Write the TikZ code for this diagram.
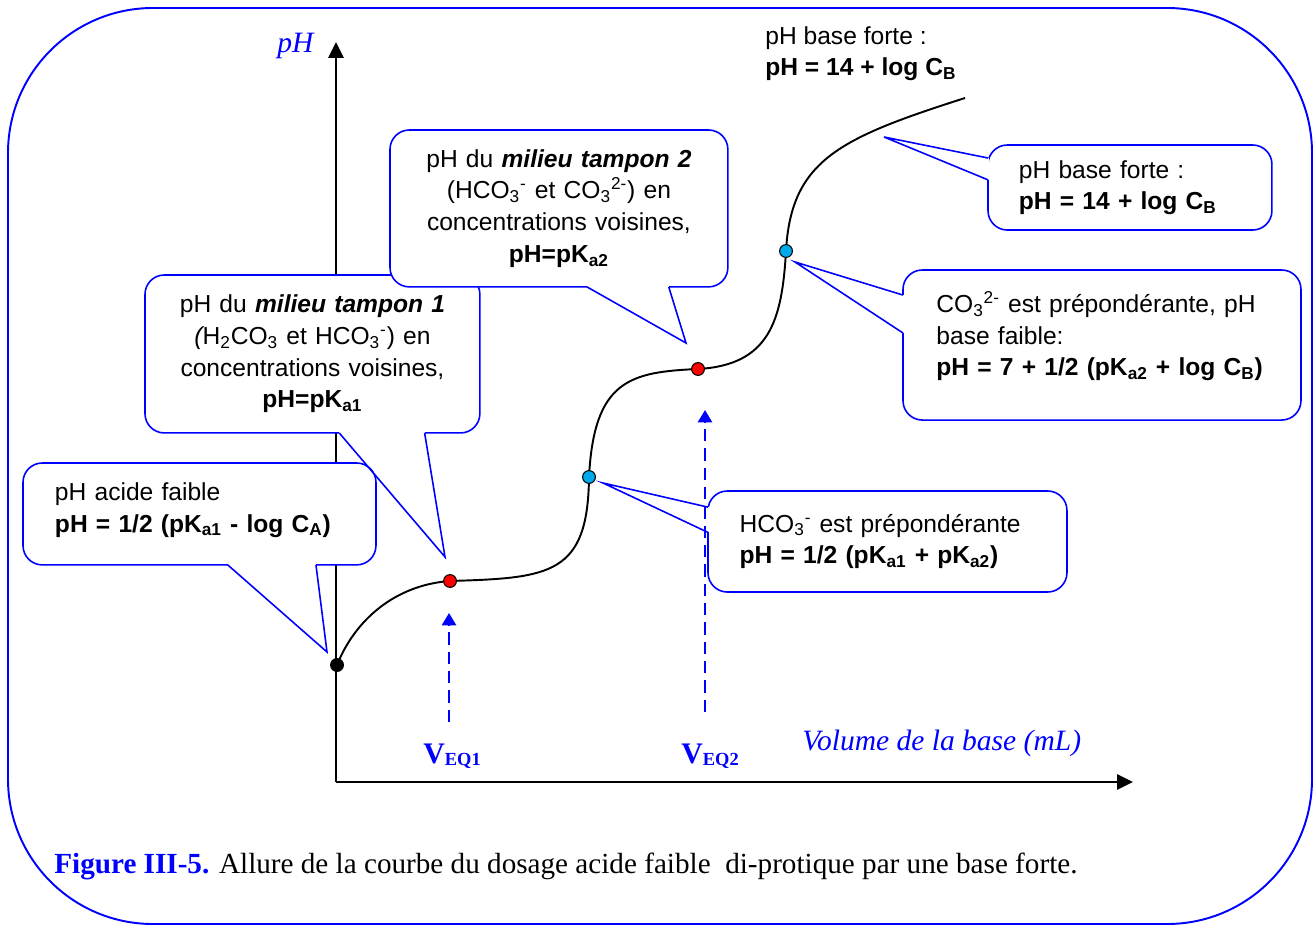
\documentclass[tikz,border=0pt]{standalone}
\usepackage{fontspec}
\setmainfont{Liberation Serif}
\setsansfont{Liberation Sans}
\usetikzlibrary{arrows.meta,calc}
\definecolor{dotBlue}{RGB}{0,170,235}
\begin{document}
\begin{tikzpicture}
		[x=0.02cm,y=-0.02cm,
			boxDecorate/.style={draw=blue,line width=0.9pt,fill=white,rounded corners=11pt,outer sep=0pt,
				anchor=north west,inner ysep=0pt,font=\sffamily\fontsize{14}{18}\selectfont},
			pointerDecorate/.style={blue,line width=0.9pt,line join=miter},
			dotDecorate/.style={shape=circle,draw,line width=0.6pt,inner sep=0pt,minimum size=7.3pt},
			axisDecorate/.style={line width=1.6pt,-{Triangle[length=9pt,width=8.5pt]}},
			eqDecorate/.style={blue,line width=1.3pt,dash pattern=on 7pt off 4pt,-{Triangle[length=7pt,width=8pt]}},
			serifLabel/.style={blue,inner sep=0pt,anchor=base west,font=\itshape\fontsize{16.8}{20}\selectfont}]
		\useasboundingbox (0,0) rectangle (1314,925);
		\draw[blue,line width=1.1pt,rounded corners=2.9cm] (8,8) rectangle (1312,924);
		% axes
		\coordinate (O) at (336,782);
		\coordinate (yEnd) at (336,42);
		\coordinate (xEnd) at (1133,782);
		\draw[axisDecorate] (O) -- (yEnd);
		\draw[axisDecorate] (O) -- (xEnd);
		% titration curve
		\foreach \name/\x/\y in {start/337/665, eqA/450/581, halfB/589/477, eqB/698/369, halfC/786/251, last/965/98}
			{
				\coordinate (\name) at (\x,\y);
			}
		\draw[line width=1.1pt] (start) .. controls (355,620) and (395,585) .. (eqA)
			.. controls (550,578) and (588,575) .. (halfB)
			.. controls (594,380) and (630,372) .. (eqB)
			.. controls (770,365) and (782,320) .. (halfC)
			.. controls (791,160) and (840,138) .. (last);
		\foreach \name/\colour in {start/black, eqA/red, halfB/dotBlue, eqB/red, halfC/dotBlue}
			{
				\node (\name Dot) at (\name) [dotDecorate,fill=\colour] {};
			}
		% callouts
		\node[boxDecorate,minimum width=200.9pt,minimum height=58pt,inner xsep=18.2pt,text width=164.5pt,align=left,text depth=25.6pt]
			(acide) at (23,463) {pH acide faible\\\textbf{pH = 1/2 (pK\textsubscript{a1} - log C\textsubscript{A})}};
		\node[boxDecorate,minimum width=190.6pt,minimum height=89.9pt,inner xsep=6pt,text width=178.6pt,align=center]
			(tampA) at (145,275) {pH du \textbf{\textit{milieu tampon 1}}\\{\itshape(}H\textsubscript{2}CO\textsubscript{3} et HCO\textsubscript{3}\textsuperscript{-}) en\\concentrations voisines,\\\textbf{pH=pK\textsubscript{a1}}};
		\node[boxDecorate,minimum width=192.3pt,minimum height=89.3pt,inner xsep=6pt,text width=180.3pt,align=center]
			(tampB) at (390,130) {pH du \textbf{\textit{milieu tampon 2}}\\(HCO\textsubscript{3}\textsuperscript{-} et CO\textsubscript{3}\textsuperscript{2-}) en\\concentrations voisines,\\\textbf{pH=pK\textsubscript{a2}}};
		\node[boxDecorate,minimum width=204.3pt,minimum height=57.5pt,inner xsep=18pt,text width=168.3pt,align=left]
			(hco) at (708,491) {HCO\textsubscript{3}\textsuperscript{-} est prépondérante\\\textbf{pH = 1/2 (pK\textsubscript{a1} + pK\textsubscript{a2})}};
		\node[boxDecorate,minimum width=161.6pt,minimum height=48.4pt,inner xsep=17.6pt,text width=126.4pt,align=left]
			(forte) at (988,145) {pH base forte :\\\textbf{pH = 14 + log C\textsubscript{B}}};
		\node[boxDecorate,minimum width=226.5pt,minimum height=85.4pt,inner xsep=19pt,text width=188.5pt,align=left,text depth=49pt]
			(co) at (903,270) {CO\textsubscript{3}\textsuperscript{2-} est prépondérante, pH\\base faible:\\\textbf{pH = 7 + 1/2 (pK\textsubscript{a2} + log C\textsubscript{B})}};
		\foreach \name/\x/\y in {tipAcide/327/652, tipTampA/445/557, tipTampB/686/343, tipHco/603/483, tipForte/884/137, tipCo/795/262}
			{
				\coordinate (\name) at (\x,\y);
			}
		\foreach \boxname/\sa/\sb/\near/\far/\tip in {
				acide/south west/south east/0.58/0.83/tipAcide, tampA/south west/south east/0.58/0.835/tipTampA,
				tampB/south west/south east/0.583/0.825/tipTampB, hco/north west/south west/0.16/0.41/tipHco,
				forte/north west/south west/0.153/0.41/tipForte, co/north west/south west/0.167/0.42/tipCo}
			{
				\draw[white,line width=1.6pt] ($(\boxname.\sa)!\near!(\boxname.\sb)$) -- ($(\boxname.\sa)!\far!(\boxname.\sb)$);
				\draw[pointerDecorate] ($(\boxname.\sa)!\near!(\boxname.\sb)$) -- (\tip) -- ($(\boxname.\sa)!\far!(\boxname.\sb)$);
			}
		\node[anchor=north west,inner sep=0pt,align=left,font=\sffamily\fontsize{14}{18}\selectfont]
			(forteTop) at (765,26) {pH base forte :\\\textbf{pH = 14 + log C\textsubscript{B}}};
		% equivalence volumes
		\foreach \name/\x/\low/\high/\lx/\sub in {veqA/449/722/613/423/EQ1, veqB/705/712/410/681/EQ2}
			{
				\coordinate (\name Low) at (\x,\low);
				\coordinate (\name High) at (\x,\high);
				\draw[eqDecorate] (\name Low) -- (\name High);
				\node (\name) at (\lx,763) [serifLabel,font=\bfseries\fontsize{17}{20}\selectfont]
					{V\raisebox{-1.7pt}{\fontsize{10.5}{12}\selectfont\sub}};
			}
		\node (phLabel) at (277,53) [serifLabel] {pH};
		\node (volLabel) at (802,750) [serifLabel] {Volume de la base (mL)};
		\node (caption) at (54,873) [anchor=base west,inner sep=0pt,font=\fontsize{16.6}{20}\selectfont]
			{\textcolor{blue}{\bfseries Figure III-5.} Allure de la courbe du dosage acide faible~ di-protique par une base forte.};
	\end{tikzpicture}
\end{document}
